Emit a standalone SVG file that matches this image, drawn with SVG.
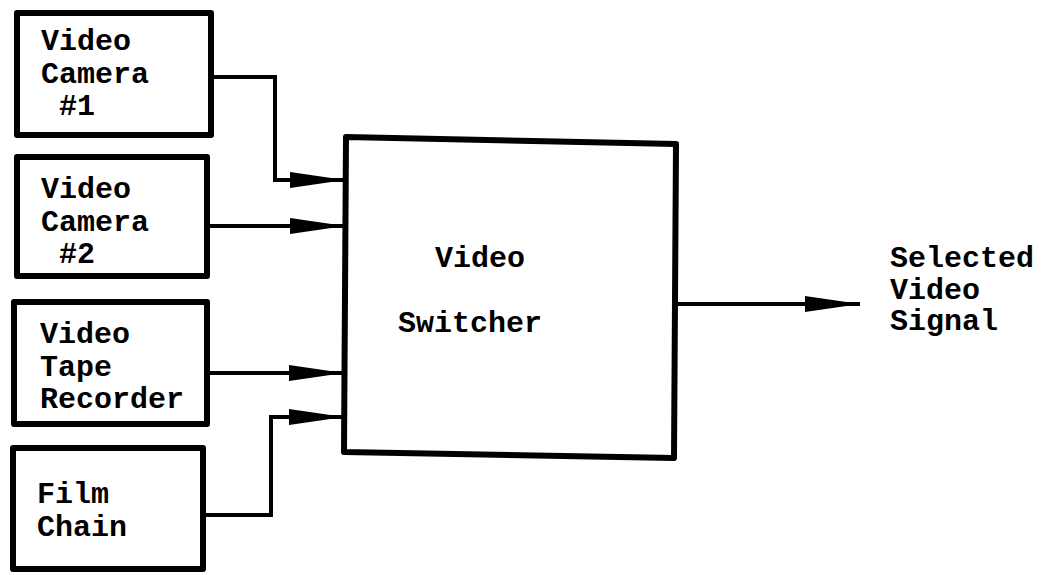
<svg xmlns="http://www.w3.org/2000/svg" width="1046" height="575" viewBox="0 0 1046 575">
<style>
.box{fill:#fff;stroke:#000;stroke-width:6;stroke-linejoin:round}
.lbl{font-family:"Liberation Mono","Courier New",monospace;font-weight:bold;font-size:30px;fill:#000}
.wire{fill:none;stroke:#000;stroke-width:4;marker-end:url(#arr)}
</style>
<defs>
<marker id="arr" markerUnits="userSpaceOnUse" viewBox="0 0 55 16" refX="55" refY="8" markerWidth="55" markerHeight="16" orient="auto">
<path d="M0,0 L55,8 L0,16 z" fill="#000"/>
</marker>
</defs>
<rect width="1046" height="575" fill="#fff"/>
<g id="connectors">
<path class="wire" d="M212,77 H275 V180 H345"/>
<path class="wire" d="M207,226 H345"/>
<path class="wire" d="M207,373 H344"/>
<path class="wire" d="M203,515 H271 V417 H344"/>
<path class="wire" d="M676,304 H860"/>
</g>
<g id="camera1">
<rect class="box" x="17" y="13" width="194" height="122"/>
<text class="lbl" x="41" y="50">Video</text>
<text class="lbl" x="41" y="83">Camera</text>
<text class="lbl" x="59" y="115">#1</text>
</g>
<g id="camera2">
<rect class="box" x="17" y="157" width="190" height="119"/>
<text class="lbl" x="41" y="198">Video</text>
<text class="lbl" x="41" y="231">Camera</text>
<text class="lbl" x="59" y="263">#2</text>
</g>
<g id="vtr">
<rect class="box" x="14" y="302" width="193" height="122"/>
<text class="lbl" x="40" y="343">Video</text>
<text class="lbl" x="40" y="376">Tape</text>
<text class="lbl" x="40" y="408">Recorder</text>
</g>
<g id="filmchain">
<rect class="box" x="13" y="448" width="190" height="121"/>
<text class="lbl" x="37" y="503">Film</text>
<text class="lbl" x="37" y="536">Chain</text>
</g>
<g id="switcher">
<path class="box" d="M346,137 L676,144 L674,458 L344,452 Z"/>
<text class="lbl" x="435" y="267">Video</text>
<text class="lbl" x="398" y="332">Switcher</text>
</g>
<g id="output">
<text class="lbl" x="890" y="267">Selected</text>
<text class="lbl" x="890" y="299">Video</text>
<text class="lbl" x="890" y="330">Signal</text>
</g>
</svg>
